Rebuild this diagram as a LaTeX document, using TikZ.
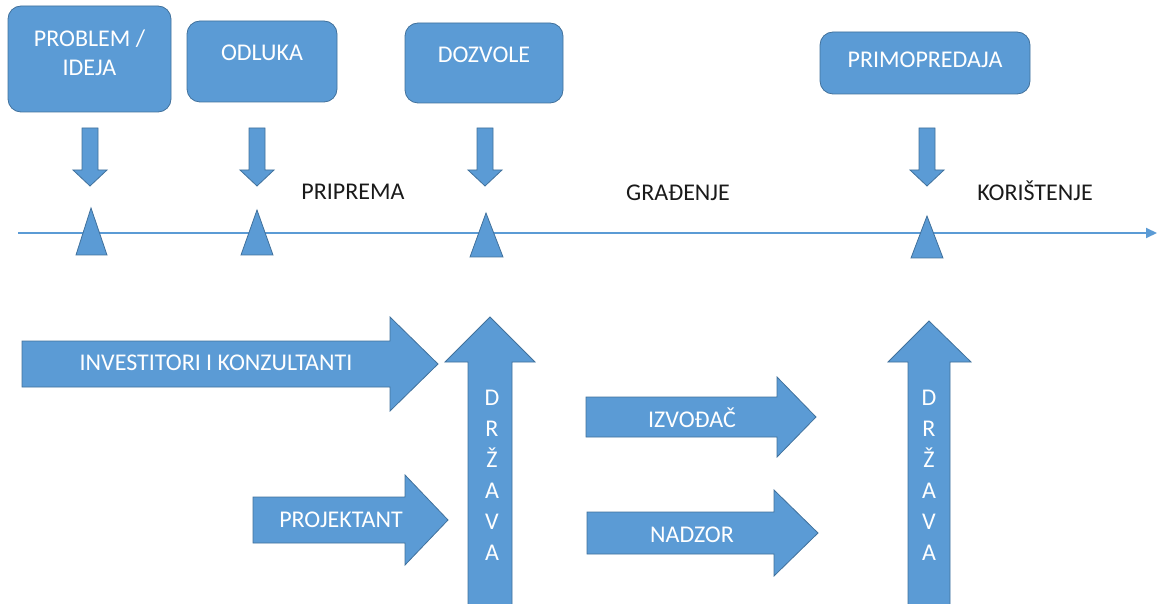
\documentclass[tikz,border=0pt]{standalone}
\usepackage{fontspec}
\setmainfont{Carlito}
\usetikzlibrary{arrows.meta}
\definecolor{fillblue}{HTML}{5B9BD5}
\definecolor{edgeblue}{HTML}{41719C}
\definecolor{txt}{HTML}{1A1A1A}
\tikzset{
  blockshape/.style={fill=fillblue,draw=edgeblue,line width=0.8pt,line join=miter},
  box/.style={blockshape,rounded corners=13pt,inner sep=0pt},
  boxtext/.style={text=white,font=\fontsize{24}{29}\selectfont,align=center,inner sep=0pt},
  onetext/.style={text height=15.5pt,text depth=0pt},
  phase/.style={text=txt,font=\fontsize{24}{29}\selectfont,inner sep=0pt,text height=15.5pt,text depth=0pt},
  vert/.style={text=white,font=\fontsize{24}{31}\selectfont,align=center,inner sep=0pt},
  timeline/.style={draw=fillblue,line width=2pt,-{Triangle[length=11pt,width=10pt]}}
}
\begin{document}
\begin{tikzpicture}[x=1pt,y=-1pt]
\useasboundingbox (0,0) rectangle (1157,604);

% top boxes
\node[box,minimum width=163pt,minimum height=106pt] (bprob) at (89.5,59) {};
\node[boxtext] (tprob) at (89.5,52.5) {PROBLEM /\\IDEJA};
\node[box,minimum width=150pt,minimum height=81pt] (bodl) at (262,61.5) {};
\node[boxtext,onetext] (todl) at (262,53) {ODLUKA};
\node[box,minimum width=158pt,minimum height=80pt] (bdoz) at (484,63) {};
\node[boxtext,onetext] (tdoz) at (484,55) {DOZVOLE};
\node[box,minimum width=210pt,minimum height=62pt] (bprim) at (925,63) {};
\node[boxtext,onetext] (tprim) at (925,60) {PRIMOPREDAJA};

% down block arrows
\foreach \c/\nm in {90/dprob,257/dodl,485/ddoz,927/dprim}{
  \draw[blockshape] (\c-8,128) -- (\c+8,128) -- (\c+8,170) -- (\c+17,170) -- (\c,186)
     -- (\c-17,170) -- (\c-8,170) -- cycle;
}

% timeline
\coordinate (tl0) at (18,233);
\coordinate (tl1) at (1157,233);
\draw[timeline] (tl0) -- (tl1);

% markers
\draw[blockshape] (91,208) -- (107,255) -- (76,255) -- cycle;
\draw[blockshape] (257,210) -- (273,255) -- (241,255) -- cycle;
\draw[blockshape] (486,213) -- (503,257) -- (470,257) -- cycle;
\draw[blockshape] (927,216) -- (943,258) -- (911,258) -- cycle;

% phase labels
\node[phase] (lprip) at (353,192) {PRIPREMA};
\node[phase] (lgrad) at (678,193) {GRAĐENJE};
\node[phase] (lkor) at (1035,193) {KORIŠTENJE};

% right block arrows
\draw[blockshape] (22,341) -- (390,341) -- (390,317) -- (438,364) -- (390,411) -- (390,387) -- (22,387) -- cycle;
\node[boxtext,onetext] (tinv) at (216,363) {INVESTITORI I KONZULTANTI};

\draw[blockshape] (253,497) -- (405,497) -- (405,475) -- (448,520) -- (405,565) -- (405,543) -- (253,543) -- cycle;
\node[boxtext,onetext] (tproj) at (341,520) {PROJEKTANT};

\draw[blockshape] (586,397) -- (777,397) -- (777,377) -- (816,417) -- (777,457) -- (777,437) -- (586,437) -- cycle;
\node[boxtext,onetext] (tizv) at (692,420) {IZVOĐAČ};

\draw[blockshape] (587,512) -- (774,512) -- (774,490) -- (818,533) -- (774,576) -- (774,554) -- (587,554) -- cycle;
\node[boxtext,onetext] (tnad) at (692,535) {NADZOR};

% up block arrows (DRŽAVA)
\draw[blockshape] (468,606) -- (468,362) -- (445,362) -- (490,317) -- (535,362) -- (512,362) -- (512,606) -- cycle;
\node[vert] (tdr1) at (492,475.5) {D\\R\\Ž\\A\\V\\A};

\draw[blockshape] (908,606) -- (908,362) -- (888,362) -- (929,321) -- (971,362) -- (950,362) -- (950,606) -- cycle;
\node[vert] (tdr2) at (929,475.5) {D\\R\\Ž\\A\\V\\A};
\end{tikzpicture}
\end{document}
